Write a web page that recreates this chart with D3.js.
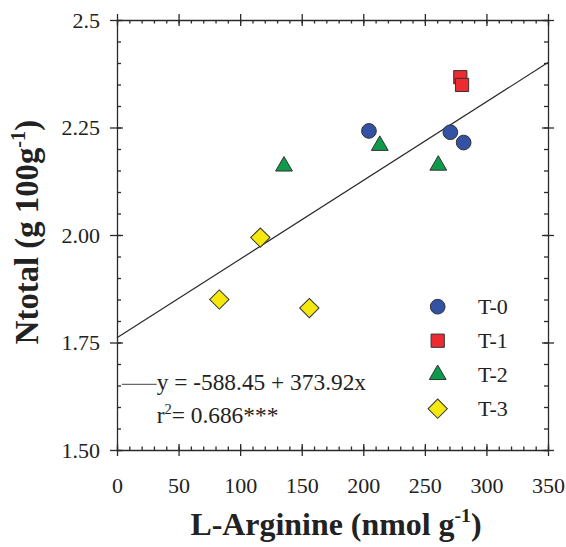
<!DOCTYPE html>
<html>
<head>
<meta charset="utf-8">
<script src="https://cdn.jsdelivr.net/npm/d3@7"></script>
<style>
  html, body { margin: 0; padding: 0; background: #fff; }
  svg { display: block; }
  text { font-family: "P052", "Palatino Linotype", "Book Antiqua", Palatino, "Liberation Serif", serif; fill: #222; }
</style>
</head>
<body>
<svg id="chart" width="566" height="547"></svg>
<script>
// Treatment groups and their measurements (L-Arginine, nmol/g vs N total, g/100 g)
const groups = ["T-0", "T-1", "T-2", "T-3"];
const t0Arg = [204.6, 270.7, 281.5];
const t0N   = [2.242, 2.239, 2.215];
const t1Arg = [278.8, 280.2];
const t1N   = [2.367, 2.349];
const t2Arg = [135.6, 213.4, 260.9];
const t2N   = [2.160, 2.208, 2.162];
const t3Arg = [83.1, 116.4, 156.2];
const t3N   = [1.850, 1.994, 1.830];

// Regression line end points
const fitArg = [0, 350];
const fitN   = [1.761, 2.401];

// Axis ticks
const xTicks = [0, 50, 100, 150, 200, 250, 300, 350];
const xTickLabels = ["0", "50", "100", "150", "200", "250", "300", "350"];
const yTicks = [1.5, 1.75, 2.0, 2.25, 2.5];
const yTickLabels = ["1.50", "1.75", "2.00", "2.25", "2.5"];
const xMinor = d3.range(0, 351, 10);
const yMinor = d3.range(0, 21).map(i => 1.5 + i * 0.05);

const eqText = "y = -588.45 + 373.92x";
const r2Text = "= 0.686***";

const colors = { "T-0": "#3352a3", "T-1": "#ec2a30", "T-2": "#0d9a4a", "T-3": "#f4e80e" };
const shapes = { "T-0": "circle", "T-1": "square", "T-2": "triangle", "T-3": "diamond" };

const series = [
  { name: "T-0", x: t0Arg, y: t0N },
  { name: "T-1", x: t1Arg, y: t1N },
  { name: "T-2", x: t2Arg, y: t2N },
  { name: "T-3", x: t3Arg, y: t3N }
];

const svg = d3.select("#chart");
const plotLeft = 117, plotRight = 548, plotTop = 20, plotBottom = 450;

const x = d3.scaleLinear().domain([0, 350]).range([plotLeft, plotRight]);
const y = d3.scaleLinear().domain([1.5, 2.5]).range([plotBottom, plotTop]);

const axisColor = "#2a2a2a";
function styleAxis(g) {
  g.selectAll("path.domain").attr("stroke", axisColor).attr("stroke-width", 1.3);
  g.selectAll(".tick line").attr("stroke", axisColor).attr("stroke-width", 1.3);
}
function noDomain(g) { g.select("path.domain").remove(); }

// Bottom axis: outward major ticks with labels
const gB = svg.append("g").attr("transform", `translate(0,${plotBottom})`)
  .call(d3.axisBottom(x).tickValues(xTicks).tickFormat((d, i) => xTickLabels[i])
    .tickSizeInner(6).tickSizeOuter(0).tickPadding(21));
gB.selectAll("text").attr("font-size", 22).attr("fill", "#222");
styleAxis(gB);
// inward major and minor ticks
svg.append("g").attr("transform", `translate(0,${plotBottom})`)
  .call(d3.axisBottom(x).tickValues(xTicks).tickFormat("").tickSizeInner(-6).tickSizeOuter(0))
  .call(noDomain).call(styleAxis);
svg.append("g").attr("transform", `translate(0,${plotBottom})`)
  .call(d3.axisBottom(x).tickValues(xMinor).tickFormat("").tickSizeInner(-3.5).tickSizeOuter(0))
  .call(noDomain).call(styleAxis);

// Top axis
svg.append("g").attr("transform", `translate(0,${plotTop})`)
  .call(d3.axisTop(x).tickValues(xTicks).tickFormat("").tickSizeInner(6).tickSizeOuter(0))
  .call(styleAxis);
svg.append("g").attr("transform", `translate(0,${plotTop})`)
  .call(d3.axisTop(x).tickValues(xTicks).tickFormat("").tickSizeInner(-6).tickSizeOuter(0))
  .call(noDomain).call(styleAxis);
svg.append("g").attr("transform", `translate(0,${plotTop})`)
  .call(d3.axisTop(x).tickValues(xMinor).tickFormat("").tickSizeInner(-3.5).tickSizeOuter(0))
  .call(noDomain).call(styleAxis);

// Left axis with labels
const gL = svg.append("g").attr("transform", `translate(${plotLeft},0)`)
  .call(d3.axisLeft(y).tickValues(yTicks).tickFormat((d, i) => yTickLabels[i])
    .tickSizeInner(7).tickSizeOuter(0).tickPadding(10));
gL.selectAll("text").attr("font-size", 22).attr("fill", "#222");
styleAxis(gL);
svg.append("g").attr("transform", `translate(${plotLeft},0)`)
  .call(d3.axisLeft(y).tickValues(yTicks).tickFormat("").tickSizeInner(-6).tickSizeOuter(0))
  .call(noDomain).call(styleAxis);
svg.append("g").attr("transform", `translate(${plotLeft},0)`)
  .call(d3.axisLeft(y).tickValues(yMinor).tickFormat("").tickSizeInner(-4).tickSizeOuter(0))
  .call(noDomain).call(styleAxis);

// Right axis
svg.append("g").attr("transform", `translate(${plotRight},0)`)
  .call(d3.axisRight(y).tickValues(yTicks).tickFormat("").tickSizeInner(6).tickSizeOuter(0))
  .call(styleAxis);
svg.append("g").attr("transform", `translate(${plotRight},0)`)
  .call(d3.axisRight(y).tickValues(yTicks).tickFormat("").tickSizeInner(-6).tickSizeOuter(0))
  .call(noDomain).call(styleAxis);
svg.append("g").attr("transform", `translate(${plotRight},0)`)
  .call(d3.axisRight(y).tickValues(yMinor).tickFormat("").tickSizeInner(-4).tickSizeOuter(0))
  .call(noDomain).call(styleAxis);

// Regression line
svg.append("path")
  .datum(fitArg.map((a, i) => [a, fitN[i]]))
  .attr("d", d3.line().x(d => x(d[0])).y(d => y(d[1])))
  .attr("fill", "none").attr("stroke", "#2a2a2a").attr("stroke-width", 1.2);

// Marker shapes
function symbolPath(shape) {
  if (shape === "circle") return d3.symbol(d3.symbolCircle, 170)();
  if (shape === "square") return d3.symbol(d3.symbolSquare, 175)();
  if (shape === "triangle") return d3.symbol(d3.symbolTriangle, 122)();
  return d3.symbol(d3.symbolSquare, 186)();
}
function drawMarker(g, shape, cx, cy, fill) {
  g.append("path")
    .attr("d", symbolPath(shape))
    .attr("transform", `translate(${cx},${cy})` + (shape === "diamond" ? " rotate(45)" : ""))
    .attr("fill", fill).attr("stroke", "#333").attr("stroke-width", 1);
}

const gPts = svg.append("g");
series.forEach(s => {
  s.x.forEach((v, i) => drawMarker(gPts, shapes[s.name], x(v), y(s.y[i]), colors[s.name]));
});

// Legend
const legend = svg.append("g");
groups.forEach((name, i) => {
  const ly = 306.7 + i * 34;
  drawMarker(legend, shapes[name], 437.7, ly, colors[name]);
  legend.append("text").attr("x", 478).attr("y", ly + 7.5)
    .attr("font-size", 22).text(name);
});

// Regression equation
svg.append("line").attr("x1", 121.7).attr("x2", 156.7).attr("y1", 384.3).attr("y2", 384.3)
  .attr("stroke", "#444").attr("stroke-width", 1);
const eq = svg.append("text").attr("x", 156.7).attr("y", 390).attr("font-size", 21).text(eqText);
const r2 = svg.append("text").attr("x", 156.7).attr("y", 423).attr("font-size", 21);
r2.append("tspan").text("r");
r2.append("tspan").attr("class", "sup").attr("dy", -8).attr("font-size", 13).text("2");
r2.append("tspan").attr("class", "after").attr("dy", 8).text(r2Text);
// fit equation width
(function () {
  const w = eq.node().getBBox().width;
  const fs = 21 * 210 / w;
  eq.attr("font-size", fs);
  r2.attr("font-size", fs);
  r2.select(".sup").attr("font-size", fs * 0.62).attr("dy", -fs * 0.4);
  r2.select(".after").attr("dy", fs * 0.4);
})();

// Axis titles
const xTitle = svg.append("text").attr("x", 336).attr("y", 535)
  .attr("text-anchor", "middle").attr("font-weight", "bold").attr("font-size", 28);
xTitle.append("tspan").text("L-Arginine (nmol g");
xTitle.append("tspan").attr("class", "sup").attr("dy", -11).attr("font-size", 18).text("-1");
xTitle.append("tspan").attr("class", "after").attr("dy", 11).text(")");

const yTitle = svg.append("text").attr("transform", "translate(38,232) rotate(-90)")
  .attr("text-anchor", "middle").attr("font-weight", "bold").attr("font-size", 28);
yTitle.append("tspan").text("Ntotal (g 100g");
yTitle.append("tspan").attr("class", "sup").attr("dy", -11).attr("font-size", 18).text("-1");
yTitle.append("tspan").attr("class", "after").attr("dy", 11).text(")");

function fitTitle(t, target) {
  const w = t.node().getBBox().width;
  const fs = 28 * target / w;
  t.attr("font-size", fs);
  t.select(".sup").attr("font-size", fs * 0.62).attr("dy", -fs * 0.4);
  t.select(".after").attr("dy", fs * 0.4);
}
fitTitle(xTitle, 292);
fitTitle(yTitle, 225);
</script>
</body>
</html>
